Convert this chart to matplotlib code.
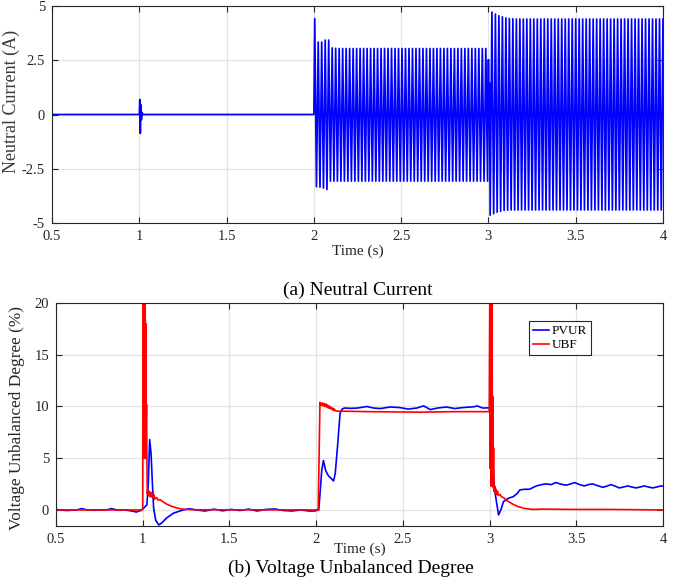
import numpy as np
import matplotlib
matplotlib.use('Agg')
import matplotlib.pyplot as plt
from matplotlib.ticker import FormatStrFormatter

plt.rcParams['font.family'] = ['Liberation Serif', 'DejaVu Serif']
plt.rcParams['axes.unicode_minus'] = False

# ---- (a) neutral current: per-cycle peak values (50 Hz) ----
grid_freq = 50.0
pre_t = [0.5, 1.0, 1.003, 1.006, 1.009, 1.012, 1.016, 1.02, 2.0]
pre_i = [0.0, 0.0, 0.69, -0.87, 0.45, -0.25, 0.1, 0.0, 0.0]

seg2_pos = [4.42, 3.34, 3.34, 3.43, 3.43, 3.07, 3.05] + [3.04] * 43
seg2_neg = [-3.33, -3.35, -3.39, -3.45, -3.07] + [-3.07] * 45

trans_t = [3.0, 3.003, 3.006]
trans_i = [2.53, -0.25, 1.45]

seg3_neg = [-4.64, -4.57, -4.50, -4.46, -4.42, -4.41] + [-4.40] * 44
seg3_pos = [4.72, 4.63, 4.55, 4.50, 4.45, 4.42, 4.41] + [4.40] * 43

# ---- (b) voltage unbalanced degree ----
pvur_t = [0.5, 0.56, 0.62, 0.648, 0.68, 0.72, 0.76, 0.79, 0.82, 0.86, 0.9, 0.946,
          0.963, 0.99, 1.013, 1.024, 1.032, 1.04, 1.048, 1.056, 1.063, 1.075, 1.093,
          1.11, 1.136, 1.175, 1.205, 1.233, 1.27, 1.31, 1.36, 1.41, 1.46, 1.51, 1.56,
          1.61, 1.66, 1.71, 1.76, 1.81, 1.86, 1.91, 1.96, 1.99, 2.015, 2.022, 2.032,
          2.042, 2.055, 2.071, 2.09, 2.1, 2.11, 2.125, 2.138, 2.15, 2.163, 2.2, 2.24,
          2.292, 2.33, 2.37, 2.427, 2.48, 2.53, 2.58, 2.62, 2.658, 2.7, 2.75, 2.8,
          2.85, 2.908, 2.93, 2.96, 3.0, 3.013, 3.027, 3.038, 3.052, 3.065, 3.08,
          3.108, 3.137, 3.16, 3.175, 3.204, 3.23, 3.269, 3.3, 3.327, 3.355, 3.381,
          3.41, 3.44, 3.465, 3.49, 3.52, 3.546, 3.57, 3.594, 3.623, 3.652, 3.676,
          3.7, 3.724, 3.748, 3.772, 3.796, 3.82, 3.844, 3.868, 3.892, 3.916, 3.94,
          3.964, 3.988, 4.0]
pvur_v = [0.05, -0.05, 0.0, 0.13, 0.0, -0.03, 0.02, 0.0, 0.13, -0.03, 0.0, -0.13,
          -0.2, -0.05, 0.3, 0.5, 2.5, 6.8, 5.5, 2.5, 0.16, -1.0, -1.45,
          -1.25, -0.8, -0.33, -0.15, 0.0, 0.12, 0.0, -0.1, 0.08, -0.08, 0.05, -0.05,
          0.08, -0.1, 0.05, 0.1, -0.05, -0.1, 0.0, -0.1, -0.1, 0.0, 1.5, 3.8,
          4.77, 3.8, 3.3, 3.0, 2.8, 3.5, 6.5, 9.35, 9.75, 9.85, 9.82, 9.85,
          10.0, 9.85, 9.8, 9.95, 9.9, 9.75, 9.85, 10.06, 9.7, 9.85, 9.95, 9.8,
          9.9, 9.97, 10.05, 9.85, 9.87, 6.1, 2.26, 0.97, -0.48, 0.0, 0.8,
          1.13, 1.29, 1.6, 1.94, 2.0, 2.0, 2.32, 2.45, 2.52, 2.45, 2.65,
          2.5, 2.39, 2.5, 2.65, 2.45, 2.32, 2.45, 2.52, 2.35, 2.19, 2.3,
          2.45, 2.3, 2.13, 2.22, 2.32, 2.22, 2.13, 2.22, 2.32, 2.22, 2.13,
          2.22, 2.32, 2.3]

ubf_t = [0.5, 0.99, 1.0, 1.002, 1.004, 1.006, 1.008, 1.010, 1.012, 1.014, 1.016,
         1.018, 1.020, 1.022, 1.024, 1.026, 1.03, 1.034, 1.038, 1.042, 1.046, 1.05,
         1.055, 1.06, 1.065, 1.07, 1.08, 1.09, 1.1, 1.12, 1.14, 1.16, 1.18, 1.2,
         1.22, 1.25, 1.3, 2.012, 2.022, 2.03, 2.035, 2.04, 2.045, 2.05, 2.055, 2.06,
         2.065, 2.07, 2.075, 2.08, 2.085, 2.09, 2.095, 2.1, 2.105, 2.11, 2.12, 2.15,
         2.3, 2.6, 2.8, 2.998, 3.002, 3.004, 3.006, 3.008, 3.010, 3.012, 3.014,
         3.016, 3.018, 3.020, 3.023, 3.026, 3.03, 3.034, 3.038, 3.042, 3.046, 3.05,
         3.06, 3.07, 3.08, 3.1, 3.13, 3.16, 3.2, 3.25, 3.3, 3.5, 3.7, 4.0]
ubf_v = [0.0, 0.0, 0.05, 24, 6, 24, 5, 24, 7, 24, 5,
         18, 8, 10.2, 5.5, 1.6, 1.9, 1.4, 1.8, 1.3, 1.7, 1.25,
         1.6, 1.15, 1.45, 1.05, 1.2, 0.95, 1.0, 0.75, 0.55, 0.4, 0.28, 0.18,
         0.1, 0.05, 0.02, 0.0, 10.4, 10.1, 10.35, 10.05, 10.3, 10.0, 10.25, 9.95,
         10.15, 9.85, 10.05, 9.8, 9.95, 9.7, 9.85, 9.6, 9.75, 9.6, 9.55, 9.55,
         9.5, 9.45, 9.5, 9.5, 24, 4, 24, 2.3, 24, 5, 22,
         3, 11, 2.2, 6, 1.8, 2.3, 1.6, 2.0, 1.5, 1.8, 1.4,
         1.5, 1.25, 1.2, 0.9, 0.6, 0.35, 0.15, 0.05, 0.08, 0.05, 0.05, 0.0]

# build the neutral current polyline from the peak lists
T = 1.0 / grid_freq
cur_t = list(pre_t)
cur_i = list(pre_i)
for k in range(len(seg2_pos)):
    cur_t += [2.0 + (k + 0.25) * T, 2.0 + (k + 0.75) * T]
    cur_i += [seg2_pos[k], seg2_neg[k]]
cur_t += trans_t
cur_i += trans_i
for k in range(len(seg3_neg)):
    cur_t += [3.01 + k * T, 3.02 + k * T]
    cur_i += [seg3_neg[k], seg3_pos[k]]

fig = plt.figure(figsize=(6.83, 5.84), dpi=100)
W, H = 683.0, 584.0

def style(ax):
    for s in ax.spines.values():
        s.set_color('#262626')
        s.set_linewidth(0.8)
    ax.tick_params(direction='in', top=True, right=True, length=4, width=0.8,
                   labelsize=10.5, colors='#262626', pad=5)
    ax.grid(True, color='#e3e3e3', linewidth=0.9)
    ax.set_axisbelow(True)
    ax.xaxis.set_major_formatter(FormatStrFormatter('%g'))
    ax.yaxis.set_major_formatter(FormatStrFormatter('%g'))

ax1 = fig.add_axes([52 / W, 1 - 223 / H, (663 - 52) / W, (223 - 6) / H])
ax1.plot(cur_t, cur_i, color='#0000ff', linewidth=1.25)
ax1.set_xlim(0.5, 4)
ax1.set_ylim(-5, 5)
ax1.set_xticks([0.5, 1, 1.5, 2, 2.5, 3, 3.5, 4])
ax1.set_yticks([-5, -2.5, 0, 2.5, 5])
style(ax1)
ax1.set_xlabel('Time (s)', fontsize=11, color='#262626')
ax1.xaxis.set_label_coords(0.5, -0.10)
ax1.set_ylabel('Neutral Current (A)', fontsize=13, color='#3a3a3a')
ax1.yaxis.set_label_coords(-0.052, 0.562)

ax2 = fig.add_axes([56 / W, 1 - 526 / H, (663 - 56) / W, (526 - 303) / H])
ax2.plot(pvur_t, pvur_v, color='#0000ff', linewidth=1.2, label='PVUR')
ax2.plot(ubf_t, ubf_v, color='#ff0000', linewidth=1.2, label='UBF')
ax2.set_xlim(0.5, 4)
ax2.set_ylim(-1.55, 20)
ax2.set_xticks([0.5, 1, 1.5, 2, 2.5, 3, 3.5, 4])
ax2.set_yticks([0, 5, 10, 15, 20])
style(ax2)
ax2.set_xlabel('Time (s)', fontsize=11, color='#262626')
ax2.xaxis.set_label_coords(0.5, -0.075)
ax2.set_ylabel('Voltage Unbalanced Degree (%)', fontsize=12.4, color='#262626')
ax2.yaxis.set_label_coords(-0.051, 0.484)
leg = ax2.legend(loc='upper right', bbox_to_anchor=(0.881, 0.919), borderaxespad=0,
                 fontsize=9.5, handlelength=1.2, handletextpad=0.2, borderpad=0.3,
                 labelspacing=0.15, fancybox=False, framealpha=1)
leg.get_frame().set_edgecolor('#262626')
leg.get_frame().set_linewidth(0.8)

fig.text(357.5 / W, 1 - 290 / H, '(a) Neutral Current', fontsize=14,
         ha='center', va='center')
fig.text(351 / W, 1 - 568 / H, '(b) Voltage Unbalanced Degree', fontsize=14,
         ha='center', va='center')

fig.savefig('out.png', dpi=100)
